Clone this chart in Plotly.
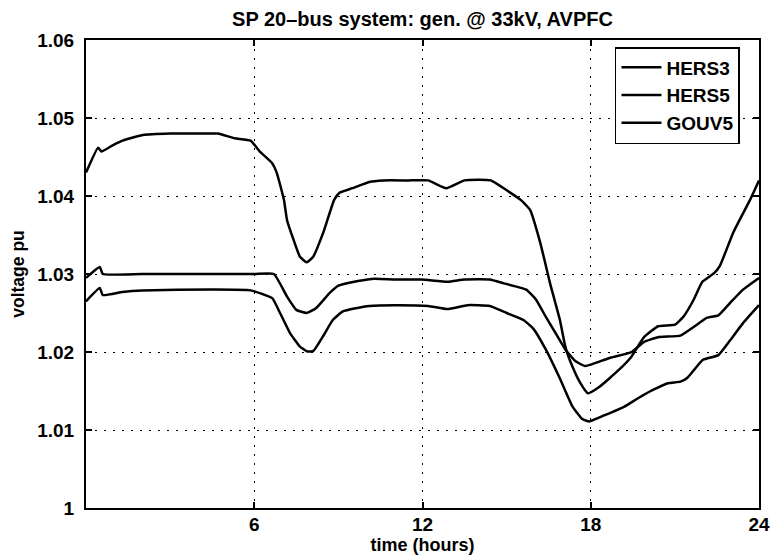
import plotly.graph_objects as go

# ---- data ----
hers3_t = [0, 0.43, 0.55, 0.95, 1.3, 2.0, 3.0, 4.0, 4.7, 5.3, 5.87, 6.2, 6.64, 6.8, 7.06, 7.17, 7.4, 7.63,
           7.87, 8.1, 8.46, 8.85, 9.03, 9.5, 10.1, 10.6, 11.5, 12.2, 12.85, 13.5, 14.43, 15.1, 15.5, 15.84,
           16.2, 16.55, 16.9, 17.1, 17.35, 17.6, 17.9, 18.3, 19.0, 19.45, 19.9, 20.4, 21.0, 21.3, 21.67,
           21.98, 22.4, 22.6, 23.08, 23.68, 24]
hers3_v = [1.0430, 1.0462, 1.0457, 1.0465, 1.0471, 1.0478, 1.0480, 1.0480, 1.0480, 1.0474, 1.0471, 1.0457,
           1.0442, 1.0430, 1.0395, 1.0369, 1.0344, 1.0322, 1.0315, 1.0322, 1.0353, 1.0395, 1.0404, 1.0410,
           1.0418, 1.0420, 1.0420, 1.0420, 1.0410, 1.0420, 1.0420, 1.0405, 1.0395, 1.0382, 1.0340, 1.0288,
           1.0241, 1.0206, 1.0181, 1.0162, 1.0147, 1.0155, 1.0177, 1.0194, 1.0219, 1.0233, 1.0235, 1.0245,
           1.0267, 1.0290, 1.0301, 1.0310, 1.0353, 1.0395, 1.0420]

hers5_t = [0, 0.49, 0.6, 2.0, 4.0, 6.0, 6.7, 7.17, 7.5, 7.87, 8.2, 8.7, 9.0, 9.7, 10.3, 11.03, 11.97, 12.9,
           13.5, 14.4, 14.9, 15.7, 16.05, 16.4, 16.75, 17.1, 17.46, 17.8, 18.17, 18.65, 19.46, 19.9, 20.4,
           21.2, 21.67, 22.15, 22.55, 22.97, 23.43, 24]
hers5_v = [1.0295, 1.0309, 1.0300, 1.0300, 1.0300, 1.0300, 1.0300, 1.0271, 1.0254, 1.0250, 1.0256, 1.0276,
           1.0285, 1.0291, 1.0294, 1.0293, 1.0293, 1.0290, 1.0293, 1.0293, 1.0288, 1.0280, 1.0267, 1.0245,
           1.0224, 1.0203, 1.0188, 1.0182, 1.0186, 1.0192, 1.0200, 1.0213, 1.0219, 1.0221, 1.0232, 1.0244,
           1.0247, 1.0263, 1.0280, 1.0295]

gouv5_t = [0, 0.49, 0.6, 1.3, 2.0, 4.47, 5.87, 6.64, 6.92, 7.28, 7.63, 7.87, 8.1, 8.45, 8.8, 9.16, 9.62,
           10.1, 11.03, 12.2, 12.9, 13.6, 14.4, 15.0, 15.6, 15.95, 16.4, 16.9, 17.35, 17.7, 17.95, 18.5,
           19.2, 19.7, 20.2, 20.75, 21.2, 21.45, 22.0, 22.55, 22.97, 23.43, 24]
gouv5_v = [1.0265, 1.0282, 1.0273, 1.0277, 1.0279, 1.0280, 1.0279, 1.0269, 1.0250, 1.0224, 1.0207, 1.0201,
           1.0201, 1.0220, 1.0241, 1.0252, 1.0256, 1.0259, 1.0260, 1.0259, 1.0255, 1.0260, 1.0259, 1.0250,
           1.0241, 1.0230, 1.0203, 1.0166, 1.0130, 1.0114, 1.0111, 1.0119, 1.0130, 1.0141, 1.0151, 1.0160,
           1.0162, 1.0167, 1.0190, 1.0196, 1.0215, 1.0237, 1.0260]

x_tickvals = [6, 12, 18, 24]
x_ticktext = ["6", "12", "18", "24"]
y_tickvals = [1.00, 1.01, 1.02, 1.03, 1.04, 1.05, 1.06]
y_ticktext = ["1", "1.01", "1.02", "1.03", "1.04", "1.05", "1.06"]

series = [("HERS3", hers3_t, hers3_v), ("HERS5", hers5_t, hers5_v), ("GOUV5", gouv5_t, gouv5_v)]

FONT = "Liberation Sans, Arial, sans-serif"

fig = go.Figure()
for name, t, v in series:
    fig.add_trace(go.Scatter(x=t, y=v, mode="lines", name=name,
                             line=dict(color="black", width=2.5, shape="spline", smoothing=0.4)))

axis_common = dict(
    showline=True, linecolor="black", linewidth=2, mirror="ticks",
    ticks="inside", ticklen=6, tickwidth=1.5, tickcolor="black",
    showgrid=True, gridcolor="black", gridwidth=1.3, griddash="2px,7px",
    zeroline=False,
    tickfont=dict(family=FONT, size=19, color="black", weight="bold"),
)

fig.update_layout(
    width=782, height=560,
    margin=dict(l=86, r=13, t=40, b=52),
    paper_bgcolor="white", plot_bgcolor="white",
    title=dict(text="SP 20–bus system: gen. @ 33kV, AVPFC",
               x=0.5, xref="paper", xanchor="center",
               y=1 - 19 / 560, yref="container", yanchor="middle",
               font=dict(family=FONT, size=20, color="black", weight="bold")),
    xaxis=dict(range=[0, 24], tickvals=x_tickvals, ticktext=x_ticktext,
               ticklabelstandoff=-2,
               title=dict(text="time (hours)", standoff=0,
                          font=dict(family=FONT, size=18, color="black", weight="bold")),
               **axis_common),
    yaxis=dict(range=[1.0, 1.06], tickvals=y_tickvals, ticktext=y_ticktext,
               ticklabelstandoff=6,
               title=dict(text="voltage pu", standoff=8,
                          font=dict(family=FONT, size=17.5, color="black", weight="bold")),
               **axis_common),
    showlegend=True,
    legend=dict(x=0.786, y=0.985, xanchor="left", yanchor="top",
                bgcolor="white", bordercolor="black", borderwidth=1.5,
                font=dict(family=FONT, size=19, color="black", weight="bold"),
                tracegroupgap=0, itemwidth=40),
)

fig.write_html("out.html", config={"displayModeBar": False},
               post_script="document.body.style.margin='0';")
